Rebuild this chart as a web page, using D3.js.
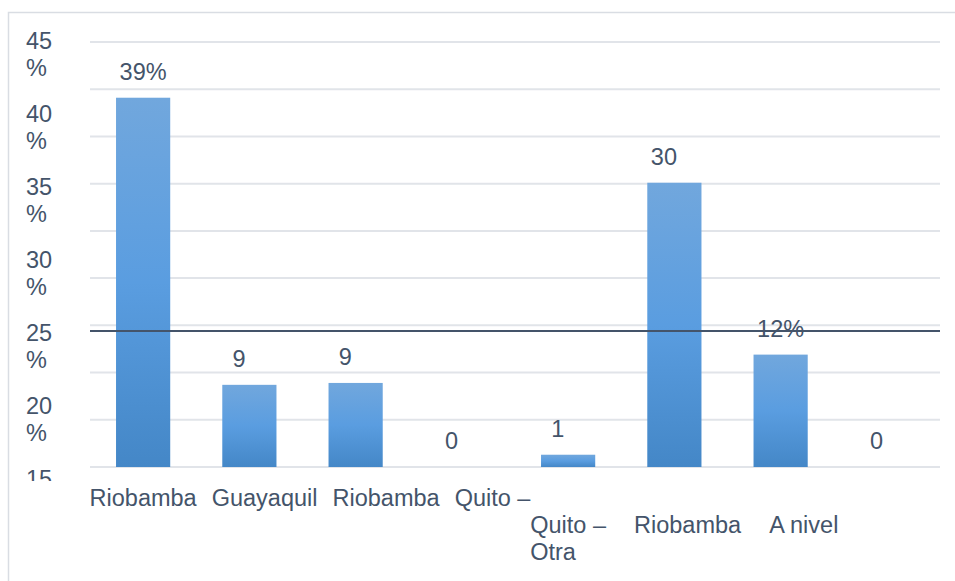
<!DOCTYPE html>
<html>
<head>
<meta charset="utf-8">
<script src="https://cdn.jsdelivr.net/npm/d3@7"></script>
<style>
  html, body { margin: 0; padding: 0; background: #ffffff; }
  svg { display: block; font-family: "Liberation Sans", Arial, sans-serif; }
</style>
</head>
<body>
<svg id="chart" width="955" height="581"></svg>
<script>
// ---- data ----
const categoryLabels = ["Riobamba", "Guayaquil", "Riobamba", "Quito –", "Quito –\nOtra", "Riobamba", "A nivel", ""];
const values = [39.1, 8.7, 8.9, 0, 1.3, 30.1, 11.9, 0];
const valueLabels = ["39%", "9", "9", "0", "1", "30", "12%", "0"];
const yTicks = [45, 40, 35, 30, 25, 20, 15, 10, 5, 0];
const yTickLabels = ["45 %", "40 %", "35 %", "30 %", "25 %", "20 %", "15 %", "10 %", "5 %", "0 %"];
const refLine = [14.4];

// ---- layout ----
const W = 955, H = 581;
const plot = { left: 90, right: 940, top: 42, bottom: 467 };
const textColor = "#44546a";
const fontSize = 23.5;
const yLabelClipBottom = 481;

const svg = d3.select("#chart");
svg.append("rect").attr("width", W).attr("height", H).attr("fill", "#fff");

// outer chart border
svg.append("rect")
  .attr("x", 8.5).attr("y", 12.5)
  .attr("width", W + 20).attr("height", H + 20)
  .attr("fill", "none").attr("stroke", "#d9dde3").attr("stroke-width", 1.5);

const defs = svg.append("defs");
const grad = defs.append("linearGradient").attr("id", "barGrad")
  .attr("x1", 0).attr("y1", 0).attr("x2", 0).attr("y2", 1);
grad.append("stop").attr("offset", "0%").attr("stop-color", "#71a7dd");
grad.append("stop").attr("offset", "50%").attr("stop-color", "#5a9de0");
grad.append("stop").attr("offset", "100%").attr("stop-color", "#4487c7");

defs.append("clipPath").attr("id", "yLabClip")
  .append("rect").attr("x", 0).attr("y", 0).attr("width", 90).attr("height", yLabelClipBottom);

const x = d3.scaleBand()
  .domain(d3.range(values.length))
  .range([plot.left, plot.right])
  .paddingInner(0.49)
  .paddingOuter(0.245);

const y = d3.scaleLinear().domain([0, 45]).range([plot.bottom, plot.top]);

// gridlines
svg.append("g")
  .selectAll("line")
  .data(yTicks)
  .join("line")
  .attr("x1", plot.left).attr("x2", plot.right)
  .attr("y1", d => y(d)).attr("y2", d => y(d))
  .attr("stroke", "#e1e4e9").attr("stroke-width", 2);

// y tick labels (wrapped in two lines, stacked; the stack overflows and is clipped)
const yLab = d3.scaleLinear().domain([45, 0]).range([49, 49 + 9 * 73]);
const shownTicks = yTicks.filter(d => yLab(d) - fontSize * 0.75 < yLabelClipBottom);
const yl = svg.append("g").attr("clip-path", "url(#yLabClip)")
  .selectAll("text")
  .data(shownTicks)
  .join("text")
  .attr("x", 26)
  .attr("y", d => yLab(d))
  .attr("fill", textColor)
  .attr("font-size", fontSize);
yl.each(function (d) {
  const parts = yTickLabels[yTicks.indexOf(d)].split(" ");
  const visibleParts = parts.filter((p, j) => yLab(d) + j * 27 - fontSize * 0.75 < yLabelClipBottom);
  d3.select(this).selectAll("tspan").data(visibleParts).join("tspan")
    .attr("x", 26)
    .attr("dy", (p, j) => j === 0 ? 0 : 27)
    .text(p => p);
});

// bars
svg.append("g")
  .selectAll("rect")
  .data(values)
  .join("rect")
  .attr("x", (d, i) => x(i))
  .attr("width", x.bandwidth())
  .attr("y", d => y(d))
  .attr("height", d => y(0) - y(d))
  .attr("fill", "url(#barGrad)");

// reference line
svg.append("g")
  .selectAll("line")
  .data(refLine)
  .join("line")
  .attr("x1", plot.left).attr("x2", plot.right)
  .attr("y1", d => y(d)).attr("y2", d => y(d))
  .attr("stroke", "#44546a").attr("stroke-width", 2);

// value labels (centred as if a "%" followed)
const vl = svg.append("g")
  .selectAll("text")
  .data(values)
  .join("text")
  .attr("x", (d, i) => x(i) + x.bandwidth() / 2)
  .attr("y", d => y(d) - 18)
  .attr("text-anchor", "middle")
  .attr("fill", textColor)
  .attr("font-size", fontSize);
vl.each(function (d, i) {
  const t = d3.select(this);
  const lab = valueLabels[i];
  t.append("tspan").text(lab);
  if (!lab.endsWith("%")) t.append("tspan").attr("fill-opacity", 0).text("%");
});

// category labels: flowed in rows
const xLabelRow = [0, 0, 0, 0, 1, 1, 1, 1];
const rowGap = [15, 28];
const rowBase = 506, lineH = 27;
const xg = svg.append("g");
const rowEnd = {};
categoryLabels.forEach((lab, i) => {
  if (!lab) return;
  const r = xLabelRow[i];
  const lines = lab.split("\n");
  const t = xg.append("text")
    .attr("fill", textColor)
    .attr("font-size", fontSize)
    .attr("y", rowBase + r * lineH);
  lines.forEach((ln, j) => {
    t.append("tspan").attr("dy", j === 0 ? 0 : lineH).text(ln);
  });
  let w = 0;
  t.selectAll("tspan").each(function () { w = Math.max(w, this.getComputedTextLength()); });
  let x0;
  if (rowEnd[r] === undefined) x0 = x(i) + x.bandwidth() / 2 - w / 2;
  else x0 = rowEnd[r] + rowGap[r];
  t.attr("x", x0);
  t.selectAll("tspan").attr("x", x0);
  rowEnd[r] = x0 + w;
});
</script>
</body>
</html>
